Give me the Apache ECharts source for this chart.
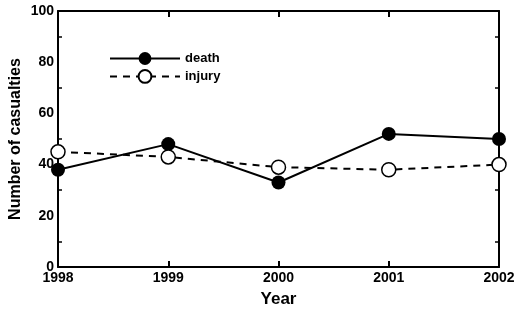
<!DOCTYPE html>
<html>
<head>
<meta charset="utf-8">
<script src="https://cdn.jsdelivr.net/npm/echarts@6/dist/echarts.min.js"></script>
<style>
  html, body { margin: 0; padding: 0; background: #fff; }
  #main { width: 515px; height: 309px; }
</style>
</head>
<body>
<div id="main"></div>
<script>
var years = ['1998', '1999', '2000', '2001', '2002'];
var death = [38, 48, 33, 52, 50];
var injury = [45, 43, 39, 38, 40];

var chart = echarts.init(document.getElementById('main'));

var font = 'Liberation Sans, Arial, sans-serif';
var axisLine = { show: true, onZero: false, lineStyle: { color: '#000', width: 2 } };

var option = {
  backgroundColor: '#fff',
  animation: false,
  grid: { left: 58, right: 16, top: 11, bottom: 42, outerBoundsMode: 'none' },
  legend: {
    left: 104,
    top: 47,
    orient: 'vertical',
    itemWidth: 70,
    itemHeight: 16,
    itemGap: 4,
    data: ['death', 'injury'],
    textStyle: { fontFamily: font, fontWeight: 'bold', fontSize: 13, color: '#000' }
  },
  xAxis: [
    {
      type: 'category',
      data: years,
      boundaryGap: false,
      name: 'Year',
      nameLocation: 'middle',
      nameGap: 24,
      nameMoveOverlap: false,
      nameTextStyle: { fontFamily: font, fontWeight: 'bold', fontSize: 17, color: '#000' },
      axisLine: axisLine,
      axisTick: { inside: true, length: 6, lineStyle: { color: '#000', width: 2 } },
      axisLabel: { fontFamily: font, fontWeight: 'bold', fontSize: 14, color: '#000', margin: 4 },
      splitLine: { show: false }
    },
    {
      type: 'category',
      data: years,
      boundaryGap: false,
      position: 'top',
      axisLine: axisLine,
      axisTick: { inside: true, length: 6, lineStyle: { color: '#000', width: 2 } },
      axisLabel: { show: false }
    }
  ],
  yAxis: [
    {
      type: 'value',
      min: 0,
      max: 100,
      interval: 20,
      name: 'Number of casualties',
      nameLocation: 'middle',
      nameGap: 34,
      nameMoveOverlap: false,
      nameTextStyle: { fontFamily: font, fontWeight: 'bold', fontSize: 16, color: '#000' },
      axisLine: axisLine,
      axisTick: { inside: true, length: 6, lineStyle: { color: '#000', width: 1.5 } },
      minorTick: { show: true, splitNumber: 2, length: 4, lineStyle: { color: '#000', width: 1.5 } },
      axisLabel: { fontFamily: font, fontWeight: 'bold', fontSize: 14, color: '#000', margin: 4 },
      splitLine: { show: false }
    },
    {
      type: 'value',
      min: 0,
      max: 100,
      interval: 20,
      position: 'right',
      axisLine: axisLine,
      axisTick: { inside: true, length: 6, lineStyle: { color: '#000', width: 1.5 } },
      minorTick: { show: true, splitNumber: 2, length: 4, lineStyle: { color: '#000', width: 1.5 } },
      axisLabel: { show: false },
      splitLine: { show: false }
    }
  ],
  series: [
    {
      name: 'death',
      type: 'line',
      data: death,
      symbol: 'circle',
      symbolSize: 14,
      itemStyle: { color: '#000' },
      lineStyle: { color: '#000', width: 2 }
    },
    {
      name: 'injury',
      type: 'line',
      data: injury,
      symbol: 'circle',
      symbolSize: 14,
      itemStyle: { color: '#fff', borderColor: '#000', borderWidth: 1.5 },
      lineStyle: { color: '#000', width: 2, type: [7, 6] }
    }
  ]
};

chart.setOption(option);
</script>
</body>
</html>
